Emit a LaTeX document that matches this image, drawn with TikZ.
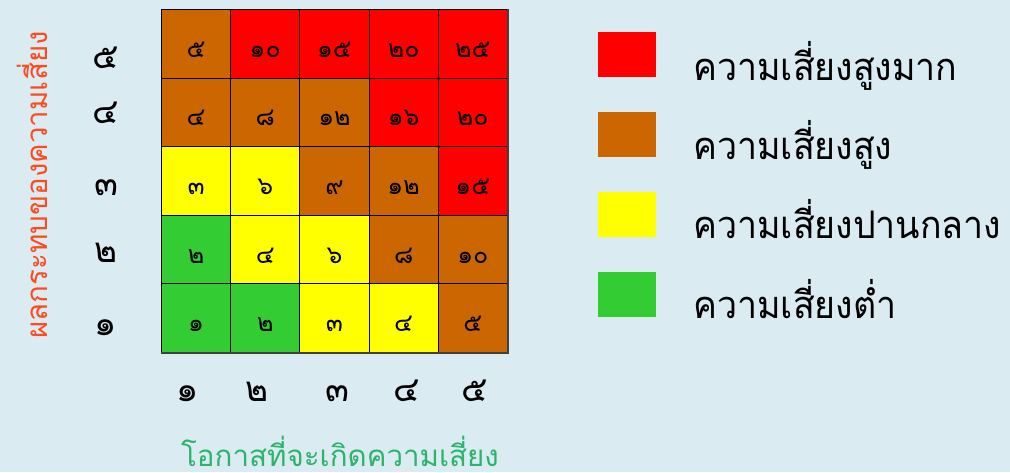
\documentclass[tikz,border=0pt]{standalone}
\usepackage{fontspec}
\setmainfont[Script=Thai]{Loma}
\definecolor{bg}{HTML}{DAEBF2}
\definecolor{rk}{HTML}{FF0000}
\definecolor{ok}{HTML}{CC6600}
\definecolor{yk}{HTML}{FFFF00}
\definecolor{gk}{HTML}{33CC33}
\definecolor{ytitle}{HTML}{FF4A1C}
\definecolor{xtitle}{HTML}{2DB36B}
\tikzset{
  cell/.style={draw=black, line width=0.9pt, minimum width=69.2pt, minimum height=68.6pt, inner sep=0pt, anchor=north west},
  cellnum/.style={inner sep=0pt, anchor=base, font=\fontsize{25}{27}\selectfont},
  axnum/.style={inner sep=0pt, anchor=base, font=\fontsize{35}{37}\selectfont},
  legbox/.style={draw=none, minimum width=58pt, minimum height=45pt, inner sep=0pt, anchor=north west},
  legtext/.style={inner sep=0pt, anchor=base west, font=\fontsize{38}{40}\selectfont},
  axtitle/.style={inner sep=0pt, anchor=base, font=\fontsize{29.5}{32}\selectfont}
}
\begin{document}
\begin{tikzpicture}[x=1pt,y=-1pt]
\fill[bg] (0,0) rectangle (1010,472);
\useasboundingbox (0,0) rectangle (1010,472);
% grid
\foreach \c/\r/\col/\t in {
  1/5/ok/๕, 2/5/rk/๑๐, 3/5/rk/๑๕, 4/5/rk/๒๐, 5/5/rk/๒๕,
  1/4/ok/๔, 2/4/ok/๘, 3/4/ok/๑๒, 4/4/rk/๑๖, 5/4/rk/๒๐,
  1/3/yk/๓, 2/3/yk/๖, 3/3/ok/๙, 4/3/ok/๑๒, 5/3/rk/๑๕,
  1/2/gk/๒, 2/2/yk/๔, 3/2/yk/๖, 4/2/ok/๘, 5/2/ok/๑๐,
  1/1/gk/๑, 2/1/gk/๒, 3/1/yk/๓, 4/1/yk/๔, 5/1/ok/๕}{
  \node[cell, fill=\col] (c\c\r) at ({161+(\c-1)*69.2},{9+(5-\r)*68.6}) {};
  \node[cellnum] (n\c\r) at ([yshift=-13.5pt]c\c\r.center) {\t};
}
\draw[black!75, line width=1.6pt] (c55.north east) -- (c51.south east) -- (c11.south west);
% y axis numbers
\node[axnum] (y5) at (106,68) {๕};
\node[axnum] (y4) at (106,123) {๔};
\node[axnum] (y3) at (106,195) {๓};
\node[axnum] (y2) at (106,262) {๒};
\node[axnum] (y1) at (106,335) {๑};
% x axis numbers
\node[axnum] (x1) at (188,401) {๑};
\node[axnum] (x2) at (257,401) {๒};
\node[axnum] (x3) at (337,401) {๓};
\node[axnum] (x4) at (407,401) {๔};
\node[axnum] (x5) at (475,401) {๕};
% titles
\node[axtitle, text=xtitle] (xt) at (340,466) {โอกาสที่จะเกิดความเสี่ยง};
\node[axtitle, text=ytitle, rotate=90] (yt) at (47,185) {ผลกระทบของความเสี่ยง};
% legend
\node[legbox, fill=rk] (l1) at (598,31.3) {};
\node[legbox, fill=ok] (l2) at (598,111.3) {};
\node[legbox, fill=yk] (l3) at (598,191.7) {};
\node[legbox, fill=gk] (l4) at (598,271.7) {};
\node[legtext] (t1) at (693,80) {\scalebox{0.94}[1]{ความเสี่ยงสูงมาก}};
\node[legtext] (t2) at (693,159) {\scalebox{0.94}[1]{ความเสี่ยงสูง}};
\node[legtext] (t3) at (693,238) {\scalebox{0.94}[1]{ความเสี่ยงปานกลาง}};
\node[legtext] (t4) at (693,318) {\scalebox{0.94}[1]{ความเสี่ยงต่ำ}};
\end{tikzpicture}
\end{document}
